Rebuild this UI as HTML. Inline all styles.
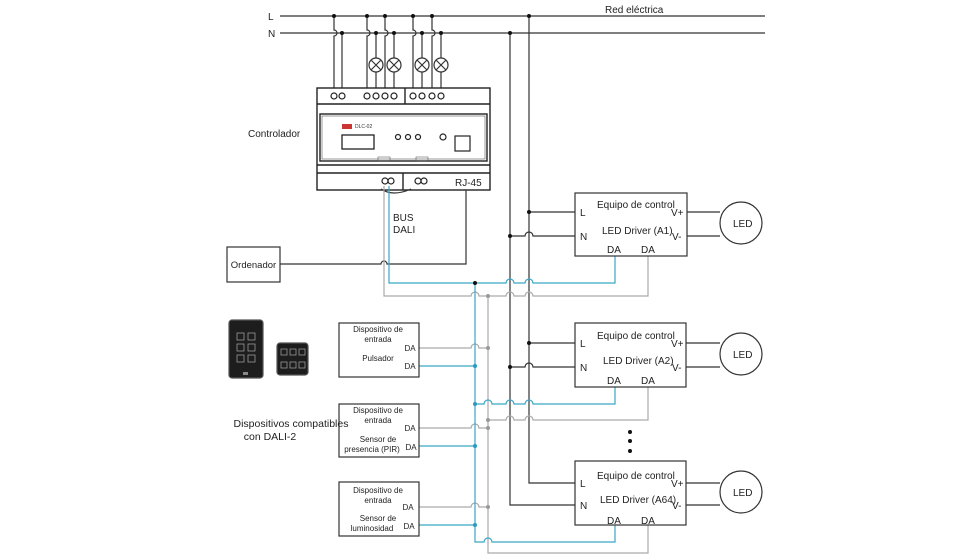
<!DOCTYPE html>
<html><head><meta charset="utf-8"><style>
body{margin:0;background:#fff;}
svg{display:block;font-family:"Liberation Sans",sans-serif;}
</style></head><body>
<svg width="980" height="560" viewBox="0 0 980 560" xmlns="http://www.w3.org/2000/svg">
<g fill="none" stroke-width="1.2">
<path d="M280 16H765M280 33H765" stroke="#333"/>
<text x="268" y="20" font-size="10" fill="#222" stroke="none">L</text>
<text x="268" y="37" font-size="10" fill="#222" stroke="none">N</text>
<text x="605" y="13" font-size="10" fill="#222" stroke="none">Red eléctrica</text>
<g stroke="#333">
<path d="M334 16V30a3 3 0 0 1 0 6V92"/>
<path d="M342 33V92"/>
<path d="M367 16V30a3 3 0 0 1 0 6V92"/>
<path d="M376 33V92"/>
<path d="M385 16V30a3 3 0 0 1 0 6V92"/>
<path d="M394 33V92"/>
<path d="M413 16V30a3 3 0 0 1 0 6V92"/>
<path d="M422 33V92"/>
<path d="M432 16V30a3 3 0 0 1 0 6V92"/>
<path d="M441 33V92"/>
<path d="M529 16V483H575"/>
<path d="M510 33V505H575"/>
</g>
<g fill="#111" stroke="none">
<circle cx="334" cy="16" r="2"/><circle cx="367" cy="16" r="2"/><circle cx="385" cy="16" r="2"/><circle cx="413" cy="16" r="2"/><circle cx="432" cy="16" r="2"/><circle cx="529" cy="16" r="2"/>
<circle cx="342" cy="33" r="2"/><circle cx="376" cy="33" r="2"/><circle cx="394" cy="33" r="2"/><circle cx="422" cy="33" r="2"/><circle cx="441" cy="33" r="2"/><circle cx="510" cy="33" r="2"/>
</g>
<g stroke="#333" fill="#fff">
<circle cx="376" cy="65" r="7"/><circle cx="394" cy="65" r="7"/><circle cx="422" cy="65" r="7"/><circle cx="441" cy="65" r="7"/>
</g>
<g stroke="#333">
<path d="M371 60l10 10M381 60l-10 10M389 60l10 10M399 60l-10 10M417 60l10 10M427 60l-10 10M436 60l10 10M446 60l-10 10"/>
</g>
<g stroke="#222" stroke-width="1.4">
<rect x="317" y="88" width="173" height="102" fill="#fff"/>
<path d="M317 104H490M317 165H490M317 173H490M405 88V104M403 173V190"/>
<rect x="320" y="114" width="167" height="47"/>
</g>
<rect x="322" y="116" width="163" height="43" stroke="#555" stroke-width="0.6"/>
<g stroke="#222" fill="#fff">
<circle cx="334" cy="96" r="3"/><circle cx="342" cy="96" r="3"/><circle cx="367" cy="96" r="3"/><circle cx="376" cy="96" r="3"/><circle cx="385" cy="96" r="3"/><circle cx="394" cy="96" r="3"/><circle cx="413" cy="96" r="3"/><circle cx="422" cy="96" r="3"/><circle cx="432" cy="96" r="3"/><circle cx="441" cy="96" r="3"/>
<circle cx="385" cy="181" r="3"/><circle cx="391" cy="181" r="3"/><circle cx="418" cy="181" r="3"/><circle cx="424" cy="181" r="3"/>
<circle cx="398" cy="137" r="2.5"/><circle cx="408" cy="137" r="2.5"/><circle cx="418" cy="137" r="2.5"/><circle cx="443" cy="137" r="3"/>
</g>
<rect x="342" y="135" width="32" height="14" stroke="#222" stroke-width="1.3"/>
<rect x="455" y="136" width="15" height="15" stroke="#222"/>
<rect x="342" y="124" width="10" height="5" fill="#c33" stroke="none"/>
<text x="355" y="128" font-size="5" fill="#333" stroke="none">DLC-02</text>
<text x="455" y="186" font-size="10" fill="#222" stroke="none">RJ-45</text>
<rect x="378" y="157" width="12" height="4" stroke="#444" stroke-width="0.5"/>
<rect x="416" y="157" width="12" height="4" stroke="#444" stroke-width="0.5"/>
<path d="M381 189q12 8 30 0" stroke="#333"/>
<text x="248" y="137" font-size="10" fill="#222" stroke="none">Controlador</text>
<text x="393" y="221" font-size="10" fill="#222" stroke="none">BUS</text>
<text x="393" y="233" font-size="10" fill="#222" stroke="none">DALI</text>
<rect x="227" y="247" width="53" height="35" stroke="#333"/>
<text x="253.5" y="268" font-size="9.5" fill="#222" stroke="none" text-anchor="middle">Ordenador</text>
<path d="M280 264H381a3 3 0 0 1 6 0H466V190" stroke="#333"/>
<g stroke="#aaa">
<path d="M384 186V296H471a4 4 0 0 1 8 0H506a4 4 0 0 1 8 0H525a4 4 0 0 1 8 0H648V256"/>
<path d="M488 296V553H648V525"/>
<path d="M419 348H471a4 4 0 0 1 8 0H488"/>
<path d="M648 387V420H533a4 4 0 0 0 -8 0H514a4 4 0 0 0 -8 0H488"/>
<path d="M419 428H471a4 4 0 0 1 8 0H488"/>
<path d="M419 507H471a4 4 0 0 1 8 0H488"/>
</g>
<g fill="#999" stroke="none"><circle cx="488" cy="296" r="2"/><circle cx="488" cy="348" r="2"/><circle cx="488" cy="420" r="2"/><circle cx="488" cy="428" r="2"/><circle cx="488" cy="507" r="2"/></g>
<g stroke="#3aa7c6">
<path d="M389 186V283H506a4 4 0 0 1 8 0H525a4 4 0 0 1 8 0H615V256"/>
<path d="M475 283V542H484a4 4 0 0 1 8 0H615V525"/>
<path d="M419 366H475"/>
<path d="M615 387V404H533a4 4 0 0 0 -8 0H514a4 4 0 0 0 -8 0H492a4 4 0 0 0 -8 0H475"/>
<path d="M419 446H475"/>
<path d="M419 525H475"/>
</g>
<g fill="#2a9ac0" stroke="none"><circle cx="475" cy="366" r="2"/><circle cx="475" cy="404" r="2"/><circle cx="475" cy="446" r="2"/><circle cx="475" cy="525" r="2"/></g>
<circle cx="475" cy="283" r="2" fill="#111" stroke="none"/>
<g stroke="#333">
<path d="M529 212H575M510 236H525a4 4 0 0 1 8 0H575"/>
<path d="M529 343H575M510 367H525a4 4 0 0 1 8 0H575"/>
<path d="M687 212H720M687 236H720M686 343H720M686 367H720M686 483H720M686 505H720"/>
</g>
<g fill="#111" stroke="none"><circle cx="529" cy="212" r="2"/><circle cx="510" cy="236" r="2"/><circle cx="529" cy="343" r="2"/><circle cx="510" cy="367" r="2"/>
<circle cx="630" cy="432" r="2"/><circle cx="630" cy="441" r="2"/><circle cx="630" cy="451" r="2"/></g>
<g stroke="#333" fill="#fff">
<rect x="575" y="193" width="112" height="63"/>
<rect x="575" y="323" width="111" height="64"/>
<rect x="575" y="461" width="111" height="64"/>
<circle cx="741" cy="223" r="21"/><circle cx="741" cy="354" r="21"/><circle cx="741" cy="492" r="21"/>
</g>
<g font-size="10" fill="#222" stroke="none">
<text x="580" y="216">L</text><text x="580" y="240">N</text><text x="597" y="208">Equipo de control</text><text x="602" y="234">LED Driver (A1)</text><text x="671" y="216">V+</text><text x="672" y="240">V-</text><text x="607" y="253">DA</text><text x="641" y="253">DA</text>
<text x="580" y="347">L</text><text x="580" y="371">N</text><text x="597" y="339">Equipo de control</text><text x="603" y="364">LED Driver (A2)</text><text x="671" y="347">V+</text><text x="672" y="371">V-</text><text x="607" y="384">DA</text><text x="641" y="384">DA</text>
<text x="580" y="487">L</text><text x="580" y="509">N</text><text x="597" y="479">Equipo de control</text><text x="600" y="503">LED Driver (A64)</text><text x="671" y="487">V+</text><text x="672" y="509">V-</text><text x="607" y="524">DA</text><text x="641" y="524">DA</text>
<text x="733" y="227">LED</text><text x="733" y="358">LED</text><text x="733" y="496">LED</text>
</g>
<g stroke="#333" fill="#fff">
<rect x="339" y="323" width="80" height="54"/>
<rect x="339" y="404" width="80" height="53"/>
<rect x="339" y="482" width="80" height="54"/>
</g>
<g font-size="8" fill="#222" stroke="none" text-anchor="middle">
<text x="378" y="332">Dispositivo de</text><text x="378" y="342">entrada</text><text x="378" y="361">Pulsador</text>
<text x="378" y="413">Dispositivo de</text><text x="378" y="423">entrada</text><text x="378" y="442">Sensor de</text><text x="372" y="452">presencia (PIR)</text>
<text x="378" y="493">Dispositivo de</text><text x="378" y="503">entrada</text><text x="378" y="521">Sensor de</text><text x="372" y="531">luminosidad</text>
<text x="410" y="351">DA</text><text x="410" y="369">DA</text><text x="410" y="431">DA</text><text x="411" y="450">DA</text><text x="408" y="510">DA</text><text x="409" y="529">DA</text>
</g>
<g font-size="10.5" fill="#222" stroke="none" text-anchor="middle">
<text x="291" y="427">Dispositivos compatibles</text><text x="270" y="440">con DALI-2</text>
</g>
<rect x="229" y="320" width="34" height="58" rx="3" fill="#1d1d1d" stroke="#555"/>
<g stroke="#999" stroke-width="0.8">
<rect x="237" y="333" width="7" height="7"/><rect x="248" y="333" width="7" height="7"/>
<rect x="237" y="344" width="7" height="7"/><rect x="248" y="344" width="7" height="7"/>
<rect x="237" y="355" width="7" height="7"/><rect x="248" y="355" width="7" height="7"/>
</g>
<rect x="243" y="372" width="5" height="3" fill="#888" stroke="none"/>
<rect x="277" y="343" width="31" height="32" rx="3" fill="#1d1d1d" stroke="#555"/>
<g stroke="#999" stroke-width="0.8">
<rect x="281" y="349" width="6" height="6"/><rect x="290" y="349" width="6" height="6"/><rect x="299" y="349" width="6" height="6"/>
<rect x="281" y="362" width="6" height="6"/><rect x="290" y="362" width="6" height="6"/><rect x="299" y="362" width="6" height="6"/>
</g>
</g>
</svg>
</body></html>
